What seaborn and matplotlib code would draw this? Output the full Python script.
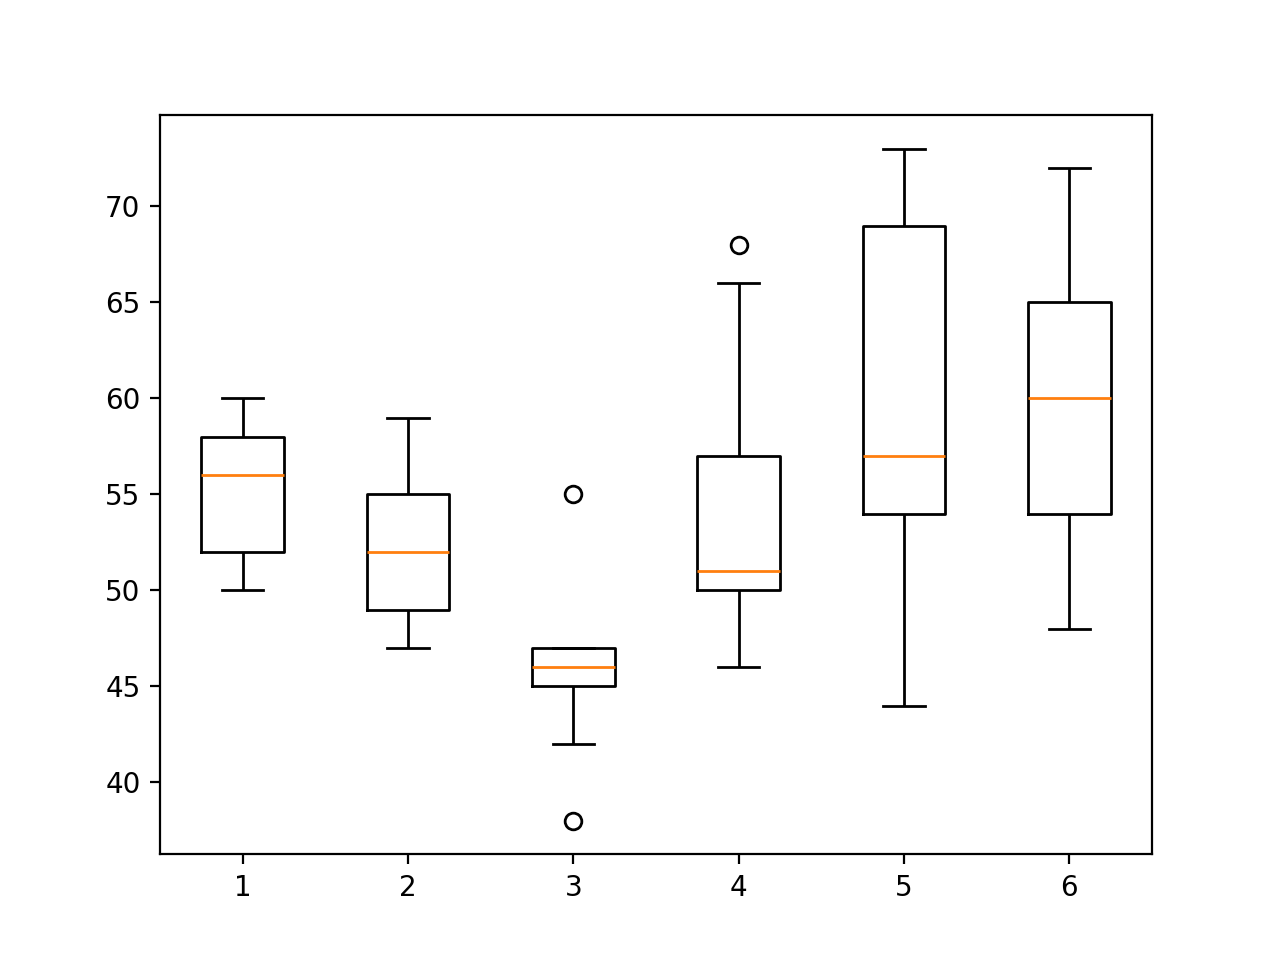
import pandas as pd
import matplotlib.pyplot as plt
import seaborn as sns

# values per group, chosen to reproduce the quartiles, whiskers and outliers
group1 = [50, 52, 56, 58, 60]
group2 = [47, 49, 52, 55, 59]
group3 = [38, 42, 45, 45, 46, 46, 47, 47, 55]
group4 = [46, 50, 50, 51, 51, 55, 57, 66, 68]
group5 = [44, 54, 57, 69, 73]
group6 = [48, 54, 60, 65, 72]
labels = ["1", "2", "3", "4", "5", "6"]

groups = [group1, group2, group3, group4, group5, group6]
rows = [(lab, v) for lab, g in zip(labels, groups) for v in g]
df = pd.DataFrame(rows, columns=["group", "value"])

fig, ax = plt.subplots(figsize=(6.4, 4.8), dpi=200)
sns.boxplot(data=df, x="group", y="value", order=labels, ax=ax,
            fill=False, color="black", linecolor="black", width=0.5, linewidth=1,
            medianprops={"color": "C1"},
            flierprops={"marker": "o", "markerfacecolor": "none",
                        "markeredgecolor": "black", "markersize": 6})
ax.set_xlabel("")
ax.set_ylabel("")
ax.set_yticks([40, 45, 50, 55, 60, 65, 70])
fig.savefig("out.png")
